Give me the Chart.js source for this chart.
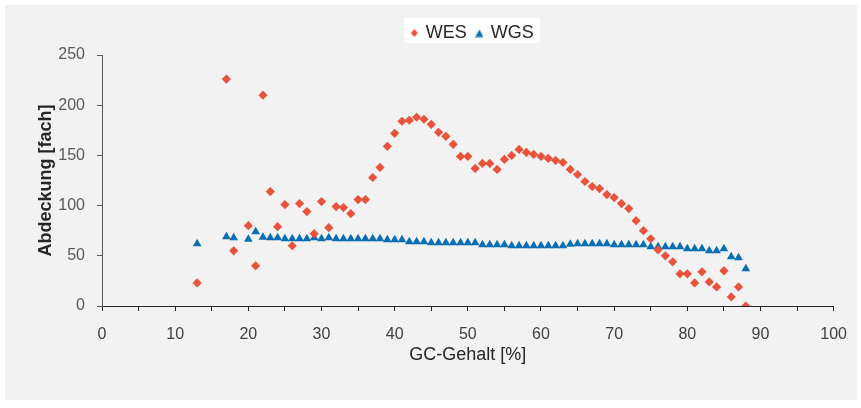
<!DOCTYPE html>
<html>
<head>
<meta charset="utf-8">
<script src="https://cdn.jsdelivr.net/npm/chart.js@4.4.1/dist/chart.umd.min.js"></script>
<style>
html,body{margin:0;padding:0;background:#ffffff;}
#wrap{width:861px;height:408px;}
</style>
</head>
<body>
<div id="wrap"><canvas id="c" width="861" height="408"></canvas></div>
<script>
// GC content (%) categories shared by both series
const gcContent = [13,17,18,20,21,22,23,24,25,26,27,28,29,30,31,32,33,34,35,36,37,38,39,40,41,42,43,44,45,46,47,48,49,50,51,52,53,54,55,56,57,58,59,60,61,62,63,64,65,66,67,68,69,70,71,72,73,74,75,76,77,78,79,80,81,82,83,84,85,86,87,88];
// Coverage (fold) for WES
const wesCoverage = [23,226,55,80,40,210,114,79,101,60,102,94,72,104,78,99,98,92,106,106,128,138,159,172,184,185,188,186,181,173,169,161,149,149,137,142,142,136,146,150,156,153,151,149,147,145,143,136,131,124,119,117,111,108,102,97,85,75,67,56,50,44,32,32,23,34,24,19,35,9,19,0];
// Coverage (fold) for WGS
const wgsCoverage = [62,69,68,66.5,74,68.5,68,68,67,67,67,67,68,67,68,67,67,67,67,67,67,67,66,66,66,64,64,64,63,63,63,63,63,63,63,61,61,61,61,60,60,60,60,60,60,60,60,61.5,62,62,62,62,62,61,61,61,61,61,59,59,59,59,59,57,57,57,55,55,57,49,48,37];
const seriesNames = ['WES','WGS'];
const xTickValues = [0,10,20,30,40,50,60,70,80,90,100];
const yTickValues = [0,50,100,150,200,250];
const xTitle = 'GC-Gehalt [%]';
const yTitle = 'Abdeckung [fach]';

const RED = '#E9533B';
const BLUE = '#0A6EB4';
const FONT = "'Liberation Sans', Arial, sans-serif";
const LEGEND_SHIFT = 5;

function markerCanvas(kind, color){
  const cv = document.createElement('canvas');
  cv.width = 8; cv.height = 9;
  const g = cv.getContext('2d');
  g.fillStyle = color;
  g.beginPath();
  if (kind === 'diamond') {
    g.moveTo(4,0.5); g.lineTo(7.5,4.5); g.lineTo(4,8.5); g.lineTo(0.5,4.5);
  } else {
    g.moveTo(4,1); g.lineTo(8,8.5); g.lineTo(0,8.5);
  }
  g.closePath(); g.fill();
  return cv;
}
const legendMarkers = [markerCanvas('diamond', RED), markerCanvas('triangle', BLUE)];

const legendSpacer = {
  id: 'legendSpacer',
  beforeLayout(chart){
    const lg = chart.legend;
    if (lg && !lg._spaced){
      const f = lg.fit;
      lg.fit = function(){ f.call(this); this.height += 3; };
      const d = lg.draw;
      lg.draw = function(){
        this.ctx.save();
        this.ctx.translate(LEGEND_SHIFT, 0);
        d.apply(this, arguments);
        this.ctx.restore();
      };
      lg._spaced = true;
    }
  }
};

const bgPlugin = {
  id: 'bgPanel',
  beforeDraw(chart){
    const ctx = chart.ctx;
    ctx.save();
    ctx.fillStyle = '#ffffff';
    ctx.fillRect(0,0,chart.width,chart.height);
    ctx.fillStyle = '#f2f2f2';
    ctx.fillRect(5,5,852,395);
    const lg = chart.legend;
    if (lg && lg.legendHitBoxes && lg.legendHitBoxes.length){
      const hb = lg.legendHitBoxes;
      let l = Infinity, r = -Infinity;
      hb.forEach(b => { l = Math.min(l, b.left); r = Math.max(r, b.left + b.width); });
      ctx.fillStyle = '#ffffff';
      ctx.fillRect(l - 8 + LEGEND_SHIFT, 18, (r - l) + 14, 25);
    }
    ctx.restore();
  }
};

const ctx = document.getElementById('c').getContext('2d');
new Chart(ctx, {
  type: 'scatter',
  data: {
    datasets: [
      {
        label: seriesNames[0],
        data: gcContent.map((g,i) => ({x: g, y: wesCoverage[i]})),
        pointStyle: 'rectRot',
        pointRadius: 4.6,
        pointBackgroundColor: RED,
        pointBorderWidth: 0,
        pointBorderColor: RED,
        backgroundColor: RED,
        borderColor: RED
      },
      {
        label: seriesNames[1],
        data: gcContent.map((g,i) => ({x: g, y: wgsCoverage[i]})),
        pointStyle: 'triangle',
        pointRadius: 5,
        pointBackgroundColor: BLUE,
        pointBorderWidth: 0,
        pointBorderColor: BLUE,
        backgroundColor: BLUE,
        borderColor: BLUE
      }
    ]
  },
  options: {
    responsive: false,
    animation: false,
    events: [],
    layout: { padding: { left: 30, right: 26, top: 14, bottom: 42 } },
    plugins: {
      tooltip: { enabled: false },
      legend: {
        display: true,
        position: 'top',
        fullSize: false,
        labels: {
          usePointStyle: true,
          boxWidth: 5,
          boxHeight: 8,
          padding: 10,
          color: '#262626',
          font: { family: FONT, size: 18 },
          generateLabels(chart){
            return chart.data.datasets.map((ds, i) => ({
              text: ds.label,
              fillStyle: ds.backgroundColor,
              strokeStyle: ds.backgroundColor,
              lineWidth: 0,
              pointStyle: legendMarkers[i],
              hidden: false,
              datasetIndex: i,
              fontColor: '#262626'
            }));
          }
        }
      }
    },
    scales: {
      x: {
        type: 'linear',
        min: 0, max: 100,
        afterFit(s){ s.height = 60; },
        afterBuildTicks(s){
          const t = [];
          for (let v = 0; v <= 100; v += 5) t.push({value: v});
          s.ticks = t;
        },
        ticks: {
          autoSkip: false,
          maxRotation: 0,
          padding: 14,
          color: '#404040',
          font: { family: FONT, size: 16 },
          callback: v => xTickValues.includes(v) ? String(v) : ''
        },
        grid: { drawOnChartArea: false, drawTicks: true, tickLength: 5, color: '#262626', lineWidth: 1 },
        border: { display: true, color: '#262626', width: 1 },
        title: { display: true, text: xTitle, color: '#262626', font: { family: FONT, size: 18 }, padding: { top: 0, bottom: 0 } }
      },
      y: {
        type: 'linear',
        min: 0, max: 250,
        afterFit(s){ s.width = 72; },
        afterBuildTicks(s){ s.ticks = yTickValues.map(v => ({value: v})); },
        ticks: {
          padding: 12,
          color: '#595959',
          font: { family: FONT, size: 16 }
        },
        grid: { drawOnChartArea: false, drawTicks: true, tickLength: 5, color: '#595959', lineWidth: 1 },
        border: { display: true, color: '#595959', width: 1 },
        title: { display: true, text: yTitle, color: '#262626', font: { family: FONT, size: 18, weight: 'bold' }, padding: { top: 5, bottom: 0 } }
      }
    }
  },
  plugins: [legendSpacer, bgPlugin]
});
</script>
</body>
</html>
